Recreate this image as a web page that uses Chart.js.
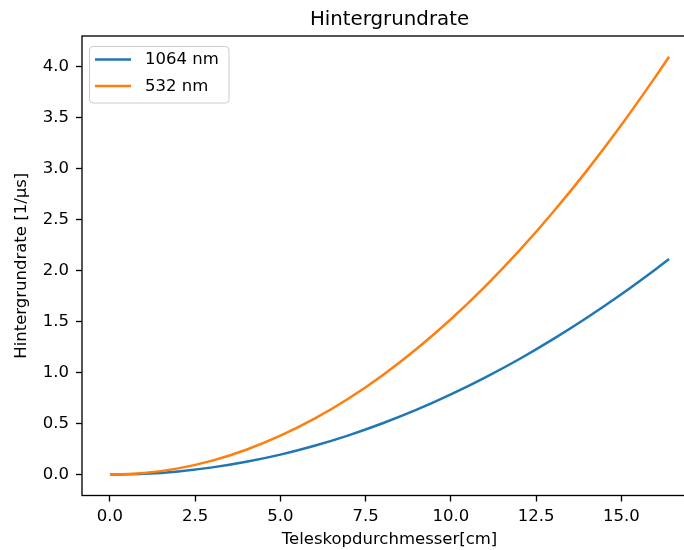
<!DOCTYPE html>
<html>
<head>
<meta charset="utf-8">
<script src="https://cdn.jsdelivr.net/npm/chart.js@4/dist/chart.umd.min.js"></script>
<style>
  html, body { margin: 0; padding: 0; background: #fff; overflow: hidden; }
  #wrap { position: relative; width: 684px; height: 550px; overflow: hidden; }
  #chart { position: absolute; left: 0; top: 0; }
</style>
</head>
<body>
<div id="wrap"><canvas id="chart" width="760" height="550" style="width:760px;height:550px"></canvas></div>
<script>
// Telescope diameter [cm]
const diameters = [0, 1, 2, 3, 4, 5, 6, 7, 8, 9, 10, 11, 12, 13, 14, 15, 16, 16.4];
// Background rate [1/µs] for each wavelength
const rate1064 = [0, 0.0079, 0.0314, 0.0707, 0.126, 0.196, 0.283, 0.385, 0.503, 0.636, 0.786, 0.951, 1.131, 1.328, 1.540, 1.768, 2.011, 2.113];
const rate532  = [0, 0.0152, 0.0609, 0.137, 0.244, 0.381, 0.548, 0.746, 0.975, 1.234, 1.523, 1.843, 2.193, 2.574, 2.985, 3.427, 3.899, 4.096];
const seriesLabels = ['1064 nm', '532 nm'];
const seriesColors = ['#1f77b4', '#ff7f0e'];
const xTicks = [0, 2.5, 5, 7.5, 10, 12.5, 15];
const yTicks = [0, 0.5, 1, 1.5, 2, 2.5, 3, 3.5, 4];

const FONT = "'DejaVu Sans', sans-serif";
const pts = (ys) => diameters.map((x, i) => ({ x: x, y: ys[i] }));

// Spines of the plot area, the title above it and the boxed legend inside it
const decorations = {
  id: 'decorations',
  afterDatasetsDraw(chart) {
    const { ctx, chartArea: a } = chart;
    ctx.save();
    ctx.strokeStyle = '#000';
    ctx.lineWidth = 1.33;
    ctx.strokeRect(a.left, a.top, a.right - a.left, a.bottom - a.top);

    ctx.fillStyle = '#000';
    ctx.font = '19.8px ' + FONT;
    ctx.textAlign = 'center';
    ctx.textBaseline = 'alphabetic';
    ctx.fillText('Hintergrundrate', (a.left + a.right) / 2, 25);

    const bx = 89.5, by = 46.5, bw = 139.5, bh = 56.5;
    ctx.beginPath();
    ctx.roundRect(bx, by, bw, bh, 3.5);
    ctx.fillStyle = 'rgba(255,255,255,0.8)';
    ctx.fill();
    ctx.strokeStyle = '#cccccc';
    ctx.lineWidth = 1;
    ctx.stroke();

    const rows = [59.5, 86];
    ctx.font = '16.5px ' + FONT;
    ctx.textAlign = 'left';
    ctx.textBaseline = 'middle';
    seriesLabels.forEach((lab, i) => {
      ctx.beginPath();
      ctx.moveTo(95, rows[i]);
      ctx.lineTo(131, rows[i]);
      ctx.strokeStyle = seriesColors[i];
      ctx.lineWidth = 2.5;
      ctx.stroke();
      ctx.fillStyle = '#000';
      ctx.fillText(lab, 145, rows[i] + 0.5);
    });
    ctx.restore();
  }
};

new Chart(document.getElementById('chart'), {
  type: 'line',
  data: {
    datasets: [
      { label: seriesLabels[0], data: pts(rate1064), borderColor: seriesColors[0], order: 1 },
      { label: seriesLabels[1], data: pts(rate532), borderColor: seriesColors[1], order: 0 }
    ]
  },
  options: {
    responsive: false,
    devicePixelRatio: 1,
    animation: false,
    layout: { padding: { left: 0, right: 63, top: 36, bottom: 0 } },
    elements: {
      point: { radius: 0 },
      line: { borderWidth: 2.5, cubicInterpolationMode: 'monotone', fill: false }
    },
    plugins: { legend: { display: false }, title: { display: false }, tooltip: { enabled: false } },
    scales: {
      x: {
        type: 'linear',
        min: -0.82,
        max: 17.22,
        afterBuildTicks: (s) => { s.ticks = xTicks.map(v => ({ value: v })); },
        afterFit: (s) => { s.height = 54.5; },
        border: { display: false },
        grid: { drawOnChartArea: false, drawTicks: true, tickLength: 6, tickColor: '#000', tickWidth: 1.33 },
        ticks: {
          color: '#000', font: { family: FONT, size: 16.5 }, padding: 5,
          maxRotation: 0, autoSkip: false,
          callback: (v) => Number(v).toFixed(1)
        },
        title: {
          display: true, text: 'Teleskopdurchmesser[cm]', color: '#000',
          font: { family: FONT, size: 16.5 }, padding: { top: 3, bottom: 0 }
        }
      },
      y: {
        type: 'linear',
        min: -0.205,
        max: 4.30,
        afterBuildTicks: (s) => { s.ticks = yTicks.map(v => ({ value: v })); },
        afterFit: (s) => { s.width = 82; },
        border: { display: false },
        grid: { drawOnChartArea: false, drawTicks: true, tickLength: 6, tickColor: '#000', tickWidth: 1.33 },
        ticks: {
          color: '#000', font: { family: FONT, size: 16.5 }, padding: 7,
          autoSkip: false,
          callback: (v) => Number(v).toFixed(1)
        },
        title: {
          display: true, text: 'Hintergrundrate [1/μs]', color: '#000',
          font: { family: FONT, size: 16.5 }, padding: { top: 12, bottom: 0 }
        }
      }
    }
  },
  plugins: [decorations]
});
</script>
</body>
</html>
